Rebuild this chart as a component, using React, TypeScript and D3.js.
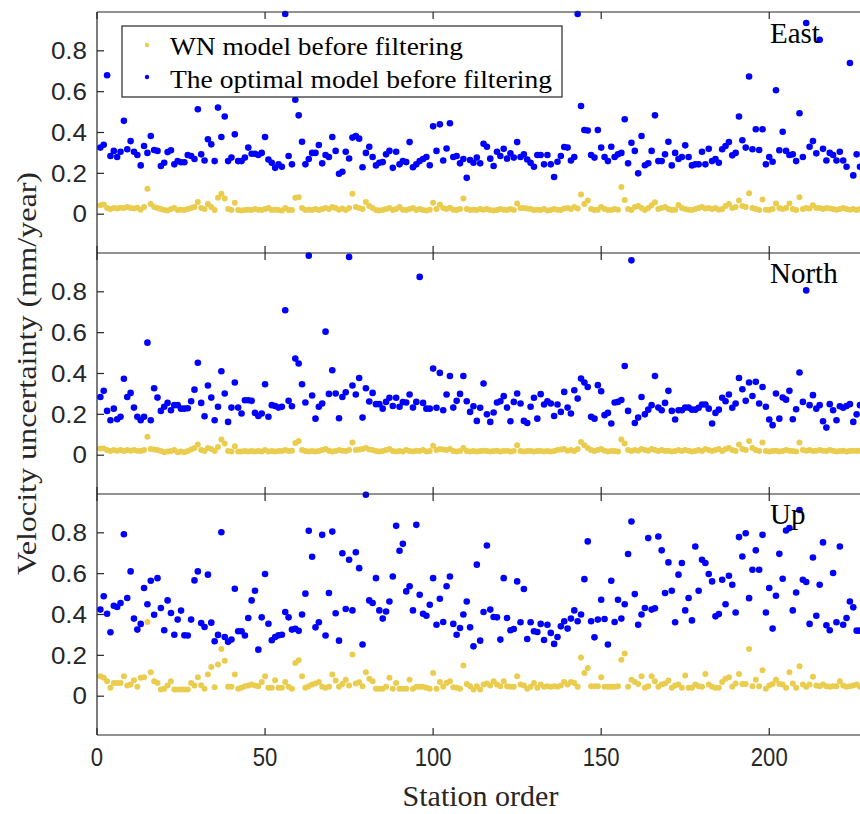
import React from "react";
import * as d3 from "d3";

// ---------- DATA (station index = position + 1) ----------
const panelNames = ["East", "North", "Up"];
const legendLabels = ["WN model before filtering", "The optimal model before filtering"];
const xTicks = [0, 50, 100, 150, 200];
const yTicks = [0, 0.2, 0.4, 0.6, 0.8];

const eastWN = [
  0.044, 0.047, 0.03, 0.025, 0.03, 0.028, 0.032, 0.03, 0.035, 0.03,
  0.028, 0.032, 0.022, 0.035, 0.124, 0.05, 0.035, 0.03, 0.025, 0.02,
  0.018, 0.025, 0.03, 0.02, 0.022, 0.02, 0.025, 0.03, 0.035, 0.06,
  0.03, 0.025, 0.05, 0.035, 0.02, 0.08, 0.1, 0.077, 0.025, 0.02,
  0.056, 0.02, 0.018, 0.02, 0.022, 0.02, 0.025, 0.022, 0.02, 0.025,
  0.03, 0.02, 0.022, 0.02, 0.018, 0.03, 0.02, 0.02, 0.08, 0.083,
  0.03, 0.02, 0.022, 0.02, 0.025, 0.02, 0.025, 0.03, 0.025, 0.035,
  0.03, 0.022, 0.028, 0.02, 0.03, 0.1, 0.035, 0.03, 0.025, 0.06,
  0.04, 0.03, 0.02, 0.018, 0.02, 0.025, 0.03, 0.02, 0.025, 0.035,
  0.022, 0.02, 0.025, 0.03, 0.02, 0.025, 0.02, 0.018, 0.022, 0.056,
  0.025, 0.047, 0.03, 0.025, 0.032, 0.022, 0.02, 0.025, 0.077, 0.025,
  0.02, 0.022, 0.02, 0.025, 0.022, 0.025, 0.02, 0.018, 0.02, 0.025,
  0.022, 0.02, 0.025, 0.02, 0.052, 0.03, 0.03, 0.028, 0.025, 0.02,
  0.022, 0.02, 0.025, 0.018, 0.02, 0.025, 0.022, 0.02, 0.028, 0.03,
  0.025, 0.035, 0.028, 0.097, 0.05, 0.067, 0.025, 0.02, 0.022, 0.035,
  0.025, 0.02, 0.02, 0.025, 0.022, 0.133, 0.069, 0.025, 0.02, 0.035,
  0.04, 0.03, 0.02, 0.03, 0.044, 0.059, 0.025, 0.03, 0.035, 0.025,
  0.02, 0.022, 0.045, 0.03, 0.025, 0.022, 0.02, 0.025, 0.03, 0.035,
  0.028, 0.03, 0.025, 0.03, 0.022, 0.025, 0.04, 0.05, 0.03, 0.035,
  0.067, 0.04, 0.035, 0.103, 0.03, 0.025, 0.02, 0.072, 0.022, 0.02,
  0.025, 0.052, 0.03, 0.025, 0.03, 0.052, 0.025, 0.02, 0.083, 0.025,
  0.03, 0.028, 0.044, 0.03, 0.03, 0.025, 0.03, 0.028, 0.025, 0.022,
  0.025, 0.03, 0.025, 0.022, 0.025, 0.02, 0.025,
];
const eastOpt = [
  0.326, 0.34, 0.68, 0.285, 0.31, 0.28, 0.306, 0.457, 0.318, 0.358,
  0.306, 0.29, 0.239, 0.334, 0.3, 0.383, 0.314, 0.31, 0.236, 0.252,
  0.304, 0.313, 0.244, 0.26, 0.254, 0.254, 0.29, 0.285, 0.27, 0.514,
  0.293, 0.263, 0.367, 0.342, 0.26, 0.522, 0.378, 0.478, 0.26, 0.277,
  0.391, 0.26, 0.26, 0.277, 0.326, 0.296, 0.296, 0.29, 0.3, 0.378,
  0.268, 0.252, 0.227, 0.244, 0.232, 0.98, 0.285, 0.244, 0.56, 0.484,
  0.355, 0.244, 0.27, 0.3, 0.3, 0.339, 0.249, 0.29, 0.28, 0.378,
  0.31, 0.198, 0.208, 0.306, 0.273, 0.375, 0.383, 0.37, 0.23, 0.3,
  0.33, 0.28, 0.239, 0.252, 0.255, 0.293, 0.31, 0.227, 0.306, 0.244,
  0.26, 0.255, 0.353, 0.23, 0.244, 0.26, 0.27, 0.28, 0.24, 0.43,
  0.31, 0.44, 0.263, 0.322, 0.445, 0.28, 0.285, 0.249, 0.27, 0.178,
  0.265, 0.252, 0.277, 0.249, 0.345, 0.33, 0.272, 0.236, 0.306, 0.285,
  0.32, 0.272, 0.298, 0.277, 0.353, 0.28, 0.293, 0.268, 0.252, 0.232,
  0.29, 0.29, 0.244, 0.29, 0.244, 0.182, 0.257, 0.285, 0.329, 0.326,
  0.263, 0.28, 0.98, 0.53, 0.412, 0.41, 0.29, 0.277, 0.412, 0.326,
  0.28, 0.26, 0.33, 0.28, 0.293, 0.3, 0.465, 0.249, 0.35, 0.31,
  0.2, 0.383, 0.24, 0.249, 0.31, 0.484, 0.26, 0.26, 0.293, 0.355,
  0.239, 0.3, 0.27, 0.28, 0.337, 0.28, 0.239, 0.244, 0.244, 0.306,
  0.244, 0.32, 0.26, 0.27, 0.252, 0.318, 0.334, 0.353, 0.288, 0.3,
  0.478, 0.362, 0.326, 0.674, 0.318, 0.416, 0.314, 0.416, 0.244, 0.28,
  0.257, 0.607, 0.313, 0.404, 0.31, 0.29, 0.293, 0.26, 0.494, 0.28,
  0.936, 0.33, 0.358, 0.298, 0.854, 0.32, 0.263, 0.3, 0.29, 0.263,
  0.306, 0.263, 0.232, 0.74, 0.19, 0.293, 0.232,
];
const northWN = [
  0.033, 0.033, 0.025, 0.02, 0.025, 0.022, 0.025, 0.02, 0.025, 0.022,
  0.025, 0.022, 0.02, 0.025, 0.09, 0.03, 0.028, 0.025, 0.02, 0.015,
  0.018, 0.02, 0.025, 0.015, 0.018, 0.015, 0.02, 0.028, 0.035, 0.052,
  0.025, 0.02, 0.035, 0.03, 0.02, 0.04, 0.077, 0.057, 0.02, 0.018,
  0.044, 0.018, 0.018, 0.02, 0.018, 0.02, 0.018, 0.02, 0.018, 0.025,
  0.018, 0.02, 0.018, 0.02, 0.02, 0.025, 0.02, 0.022, 0.06, 0.07,
  0.025, 0.02, 0.018, 0.02, 0.018, 0.02, 0.025, 0.03, 0.022, 0.018,
  0.02, 0.025, 0.022, 0.02, 0.025, 0.062, 0.025, 0.028, 0.03, 0.035,
  0.028, 0.025, 0.02, 0.018, 0.02, 0.025, 0.03, 0.02, 0.018, 0.02,
  0.018, 0.025, 0.02, 0.018, 0.022, 0.02, 0.025, 0.018, 0.02, 0.046,
  0.025, 0.03, 0.028, 0.025, 0.03, 0.02, 0.018, 0.02, 0.035, 0.02,
  0.018, 0.02, 0.018, 0.02, 0.022, 0.02, 0.018, 0.02, 0.022, 0.018,
  0.02, 0.022, 0.018, 0.02, 0.049, 0.02, 0.018, 0.02, 0.02, 0.018,
  0.02, 0.02, 0.018, 0.02, 0.018, 0.02, 0.025, 0.028, 0.03, 0.022,
  0.025, 0.02, 0.03, 0.065, 0.049, 0.035, 0.025, 0.02, 0.025, 0.03,
  0.022, 0.018, 0.02, 0.02, 0.018, 0.077, 0.057, 0.025, 0.02, 0.025,
  0.022, 0.03, 0.025, 0.022, 0.03, 0.025, 0.02, 0.025, 0.02, 0.022,
  0.018, 0.02, 0.025, 0.02, 0.025, 0.022, 0.018, 0.02, 0.025, 0.02,
  0.03, 0.025, 0.02, 0.025, 0.03, 0.02, 0.03, 0.035, 0.025, 0.02,
  0.052, 0.03, 0.025, 0.069, 0.035, 0.025, 0.02, 0.062, 0.02, 0.018,
  0.02, 0.022, 0.018, 0.02, 0.025, 0.022, 0.02, 0.018, 0.062, 0.025,
  0.022, 0.025, 0.02, 0.022, 0.025, 0.022, 0.02, 0.025, 0.022, 0.018,
  0.02, 0.022, 0.018, 0.02, 0.022, 0.02, 0.022,
];
const northOpt = [
  0.285, 0.315, 0.217, 0.171, 0.228, 0.176, 0.188, 0.374, 0.285, 0.305,
  0.233, 0.188, 0.171, 0.188, 0.551, 0.171, 0.328, 0.282, 0.217, 0.237,
  0.256, 0.22, 0.245, 0.245, 0.228, 0.228, 0.23, 0.264, 0.321, 0.453,
  0.256, 0.191, 0.341, 0.282, 0.171, 0.237, 0.411, 0.302, 0.163, 0.233,
  0.356, 0.233, 0.204, 0.269, 0.269, 0.266, 0.207, 0.192, 0.204, 0.347,
  0.188, 0.245, 0.241, 0.233, 0.237, 0.71, 0.266, 0.24, 0.473, 0.449,
  0.347, 0.258, 0.977, 0.292, 0.179, 0.237, 0.253, 0.605, 0.3, 0.416,
  0.302, 0.181, 0.285, 0.308, 0.971, 0.341, 0.297, 0.378, 0.184, 0.328,
  0.263, 0.305, 0.25, 0.25, 0.228, 0.261, 0.281, 0.241, 0.281, 0.237,
  0.26, 0.258, 0.297, 0.233, 0.261, 0.873, 0.256, 0.228, 0.228, 0.424,
  0.232, 0.403, 0.22, 0.297, 0.388, 0.233, 0.266, 0.3, 0.388, 0.264,
  0.212, 0.24, 0.168, 0.232, 0.351, 0.2, 0.163, 0.209, 0.258, 0.264,
  0.289, 0.233, 0.166, 0.261, 0.302, 0.253, 0.168, 0.158, 0.237, 0.281,
  0.179, 0.299, 0.248, 0.264, 0.253, 0.192, 0.248, 0.212, 0.31, 0.233,
  0.204, 0.318, 0.277, 0.375, 0.356, 0.334, 0.188, 0.179, 0.343, 0.313,
  0.196, 0.207, 0.155, 0.258, 0.261, 0.27, 0.437, 0.217, 0.954, 0.158,
  0.184, 0.285, 0.2, 0.223, 0.245, 0.388, 0.233, 0.22, 0.256, 0.315,
  0.217, 0.175, 0.22, 0.22, 0.233, 0.233, 0.223, 0.223, 0.232, 0.248,
  0.248, 0.228, 0.155, 0.207, 0.223, 0.281, 0.264, 0.297, 0.232, 0.253,
  0.378, 0.323, 0.266, 0.356, 0.29, 0.359, 0.253, 0.334, 0.237, 0.175,
  0.147, 0.302, 0.179, 0.282, 0.272, 0.315, 0.176, 0.225, 0.405, 0.261,
  0.807, 0.245, 0.294, 0.228, 0.245, 0.166, 0.135, 0.25, 0.22, 0.171,
  0.24, 0.232, 0.241, 0.25, 0.163, 0.2, 0.245,
];
const upWN = [
  0.098, 0.09, 0.073, 0.041, 0.065, 0.065, 0.065, 0.098, 0.052, 0.057,
  0.078, 0.046, 0.09, 0.093, 0.363, 0.117, 0.073, 0.065, 0.033, 0.037,
  0.052, 0.073, 0.033, 0.033, 0.033, 0.033, 0.033, 0.065, 0.052, 0.093,
  0.054, 0.037, 0.106, 0.143, 0.044, 0.155, 0.231, 0.174, 0.046, 0.046,
  0.106, 0.037, 0.041, 0.049, 0.052, 0.057, 0.052, 0.049, 0.07, 0.098,
  0.041, 0.041, 0.078, 0.041, 0.041, 0.07, 0.046, 0.036, 0.163, 0.176,
  0.098, 0.041, 0.049, 0.057, 0.062, 0.07, 0.046, 0.041, 0.046, 0.106,
  0.077, 0.046, 0.06, 0.081, 0.052, 0.204, 0.062, 0.068, 0.049, 0.117,
  0.086, 0.073, 0.037, 0.037, 0.037, 0.046, 0.09, 0.037, 0.065, 0.037,
  0.037, 0.037, 0.081, 0.036, 0.046, 0.046, 0.046, 0.041, 0.037, 0.114,
  0.036, 0.07, 0.046, 0.065, 0.073, 0.044, 0.041, 0.037, 0.15, 0.06,
  0.049, 0.033, 0.049, 0.033, 0.057, 0.062, 0.052, 0.073, 0.057, 0.049,
  0.073, 0.049, 0.046, 0.046, 0.098, 0.057, 0.052, 0.037, 0.046, 0.065,
  0.041, 0.057, 0.046, 0.049, 0.046, 0.049, 0.046, 0.052, 0.07, 0.057,
  0.07, 0.065, 0.046, 0.19, 0.114, 0.138, 0.049, 0.049, 0.049, 0.093,
  0.046, 0.046, 0.046, 0.046, 0.049, 0.179, 0.209, 0.046, 0.081, 0.07,
  0.06, 0.098, 0.041, 0.049, 0.098, 0.073, 0.046, 0.057, 0.062, 0.077,
  0.041, 0.052, 0.057, 0.041, 0.101, 0.041, 0.041, 0.057, 0.049, 0.046,
  0.109, 0.057, 0.046, 0.041, 0.041, 0.07, 0.085, 0.093, 0.046, 0.062,
  0.109, 0.06, 0.06, 0.231, 0.049, 0.081, 0.049, 0.127, 0.037, 0.052,
  0.06, 0.081, 0.06, 0.057, 0.041, 0.117, 0.062, 0.041, 0.147, 0.057,
  0.046, 0.057, 0.095, 0.052, 0.049, 0.057, 0.049, 0.046, 0.049, 0.049,
  0.073, 0.052, 0.046, 0.049, 0.052, 0.057, 0.046,
];
const upOpt = [
  0.424, 0.489, 0.404, 0.313, 0.443, 0.437, 0.456, 0.793, 0.481, 0.611,
  0.38, 0.326, 0.354, 0.53, 0.45, 0.565, 0.399, 0.578, 0.432, 0.323,
  0.469, 0.407, 0.301, 0.375, 0.419, 0.298, 0.297, 0.375, 0.567, 0.611,
  0.358, 0.339, 0.595, 0.36, 0.269, 0.3, 0.803, 0.29, 0.266, 0.277,
  0.526, 0.318, 0.318, 0.297, 0.383, 0.469, 0.516, 0.228, 0.386, 0.598,
  0.355, 0.274, 0.29, 0.298, 0.301, 0.412, 0.386, 0.326, 0.33, 0.32,
  0.4, 0.502, 0.81, 0.683, 0.337, 0.362, 0.79, 0.297, 0.505, 0.806,
  0.406, 0.272, 0.7, 0.427, 0.668, 0.42, 0.705, 0.627, 0.253, 0.986,
  0.469, 0.456, 0.578, 0.42, 0.38, 0.415, 0.464, 0.586, 0.834, 0.712,
  0.746, 0.513, 0.538, 0.42, 0.839, 0.497, 0.404, 0.394, 0.448, 0.578,
  0.35, 0.477, 0.363, 0.538, 0.586, 0.354, 0.301, 0.334, 0.4, 0.464,
  0.337, 0.244, 0.644, 0.272, 0.412, 0.738, 0.424, 0.388, 0.386, 0.277,
  0.578, 0.383, 0.323, 0.329, 0.562, 0.362, 0.525, 0.28, 0.362, 0.318,
  0.314, 0.354, 0.275, 0.35, 0.31, 0.256, 0.29, 0.342, 0.367, 0.331,
  0.38, 0.42, 0.367, 0.4, 0.573, 0.758, 0.367, 0.288, 0.375, 0.472,
  0.378, 0.253, 0.565, 0.363, 0.472, 0.38, 0.45, 0.696, 0.855, 0.5,
  0.35, 0.4, 0.432, 0.774, 0.424, 0.43, 0.782, 0.714, 0.505, 0.655,
  0.516, 0.362, 0.595, 0.652, 0.42, 0.481, 0.371, 0.733, 0.516, 0.668,
  0.652, 0.598, 0.562, 0.391, 0.402, 0.57, 0.45, 0.59, 0.546, 0.41,
  0.779, 0.684, 0.798, 0.48, 0.619, 0.714, 0.619, 0.79, 0.41, 0.53,
  0.331, 0.492, 0.697, 0.575, 0.811, 0.823, 0.42, 0.508, 0.912, 0.57,
  0.559, 0.354, 0.679, 0.394, 0.546, 0.753, 0.347, 0.323, 0.603, 0.362,
  0.733, 0.35, 0.383, 0.464, 0.435, 0.321, 0.321,
];

const wnSeries = [eastWN, northWN, upWN];
const optSeries = [eastOpt, northOpt, upOpt];

// ---------- LAYOUT ----------
const W = 860;
const H = 814;
const left = 97;
const right = 860;
const top = 12;
const panelH = 241;
const yellow = "#EACD4E";
const blue = "#0000FF";
const axisColor = "#262626";
const serif = "'Liberation Serif', 'Times New Roman', serif";
const sans = "'Liberation Sans', Arial, sans-serif";

export default function App() {
  const x = d3.scaleLinear().domain([0, 227]).range([left, right]);
  const panels = panelNames.map((name, p) => {
    const y0 = top + p * panelH;
    const y = d3.scaleLinear().domain([-0.19, 0.99]).range([y0 + panelH, y0]);
    return { name, p, y0, y };
  });
  const bottom = top + 3 * panelH;
  const hLines = [0, 1, 2, 3].map((k) => top + k * panelH);

  return (
    <svg
      width={W}
      height={H}
      style={{ position: "absolute", left: 0, top: 0, background: "#fff" }}
    >
      <rect x={0} y={0} width={W} height={H} fill="#fff" />
      {/* points */}
      {panels.map(({ p, y }) => (
        <g key={"pts" + p}>
          {wnSeries[p].map((v, i) => (
            <circle key={"w" + i} cx={x(i + 1)} cy={y(v)} r={3} fill={yellow} />
          ))}
          {optSeries[p].map((v, i) => (
            <circle key={"o" + i} cx={x(i + 1)} cy={y(v)} r={3.3} fill={blue} />
          ))}
        </g>
      ))}
      {/* axes frame */}
      <line x1={left} x2={left} y1={top} y2={bottom} stroke={axisColor} strokeWidth={1.2} />
      {hLines.map((yy, k) => (
        <line key={"h" + k} x1={left} x2={W + 2} y1={yy} y2={yy} stroke={axisColor} strokeWidth={1.2} />
      ))}
      {/* x ticks on every horizontal border */}
      {hLines.map((yy, k) =>
        xTicks.map((t) => (
          <line
            key={"xt" + k + "-" + t}
            x1={x(t)}
            x2={x(t)}
            y1={k === 0 ? yy : yy - 7}
            y2={k === 3 ? yy : yy + 7}
            stroke={axisColor}
            strokeWidth={1.2}
          />
        ))
      )}
      {/* y ticks and labels */}
      {panels.map(({ p, y }) =>
        yTicks.map((t) => (
          <g key={"yt" + p + "-" + t}>
            <line x1={left} x2={left + 7} y1={y(t)} y2={y(t)} stroke={axisColor} strokeWidth={1.2} />
            <text
              transform={`translate(87,${y(t)}) scale(1.13,1)`}
              textAnchor="end"
              dy="0.36em"
              fontFamily={sans}
              fontSize={23}
              fill="#262626"
            >
              {t === 0 ? "0" : d3.format(".1f")(t)}
            </text>
          </g>
        ))
      )}
      {/* x tick labels */}
      {xTicks.map((t) => (
        <text
          key={"xl" + t}
          transform={`translate(${x(t)},${bottom + 31}) scale(0.85,1)`}
          textAnchor="middle"
          fontFamily={sans}
          fontSize={26}
          fill="#262626"
        >
          {t}
        </text>
      ))}
      {/* panel labels */}
      {panels.map(({ name, p, y0 }) => (
        <text
          key={"pl" + p}
          x={770}
          y={y0 + [31, 30, 30][p]}
          fontFamily={serif}
          fontSize={29}
          fill="#000"
        >
          {name}
        </text>
      ))}
      {/* axis titles */}
      <text
        transform={`translate(36,${(top + bottom) / 2}) rotate(-90)`}
        textAnchor="middle"
        fontFamily={serif}
        fontSize={27}
        textLength={403}
        lengthAdjust="spacingAndGlyphs"
        fill="#262626"
      >
        Velocity uncertainty (mm/year)
      </text>
      <text
        x={(left + right) / 2 + 2}
        y={806}
        textAnchor="middle"
        fontFamily={serif}
        fontSize={30}
        fill="#262626"
      >
        Station order
      </text>
      {/* legend */}
      <g>
        <rect x={122} y={26} width={440} height={71} fill="#fff" stroke={axisColor} strokeWidth={1.2} />
        {legendLabels.map((lab, k) => (
          <g key={"lg" + k}>
            <circle cx={147} cy={45 + k * 32} r={2.2} fill={k === 0 ? yellow : blue} />
            <text
              x={170}
              y={55 + k * 33}
              fontFamily={serif}
              fontSize={26}
              textLength={k === 0 ? 293 : 382}
              lengthAdjust="spacingAndGlyphs"
              fill="#000"
            >
              {lab}
            </text>
          </g>
        ))}
      </g>
    </svg>
  );
}
